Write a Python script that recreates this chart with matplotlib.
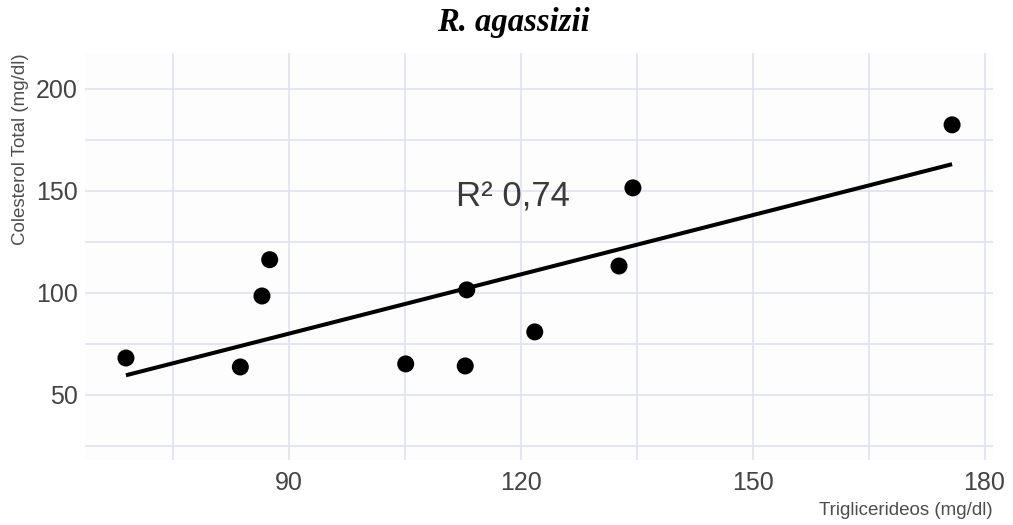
import numpy as np
import matplotlib
matplotlib.use("Agg")
import matplotlib.pyplot as plt
from matplotlib.ticker import FixedLocator

# Data
trig = [68.9, 83.7, 86.5, 87.5, 105.1, 112.8, 113.0, 121.8, 132.7, 134.5, 175.8]
col = [68.1, 63.7, 98.5, 116.3, 65.2, 64.2, 101.5, 80.9, 113.2, 151.5, 182.4]
x_major = [90, 120, 150, 180]
x_minor = [75, 105, 135, 165]
y_major = [50, 100, 150, 200]
y_minor = [25, 75, 125, 175]
title = "R. agassizii"
r2_label = "R² 0,74"

plt.rcParams['font.family'] = ['Liberation Sans', 'DejaVu Sans']

fig = plt.figure(figsize=(10.13, 5.25), dpi=100, facecolor='white')
ax = fig.add_axes([0.0839, 0.1238, 0.8964, 0.7752])
ax.set_facecolor('#fdfdfd')

x = np.array(trig)
y = np.array(col)
b, a = np.polyfit(x, y, 1)
xl = np.array([x.min(), x.max()])
ax.plot(xl, a + b * xl, color='black', lw=2.9, solid_capstyle='butt', zorder=3)
ax.scatter(x, y, s=150, color='black', zorder=4, edgecolors='none')

ax.text(119, 147, r2_label, ha='center', va='center', fontsize=25, color='#3a3a3a')

ax.set_xlim(63.6, 181.1)
ax.set_ylim(18.1, 217.6)
ax.xaxis.set_major_locator(FixedLocator(x_major))
ax.xaxis.set_minor_locator(FixedLocator(x_minor))
ax.yaxis.set_major_locator(FixedLocator(y_major))
ax.yaxis.set_minor_locator(FixedLocator(y_minor))
ax.grid(True, which='both', color='#dfe3ee', lw=1.2)
ax.set_axisbelow(True)
for s in ax.spines.values():
    s.set_visible(False)
ax.tick_params(which='both', length=0)
ax.tick_params(axis='x', labelsize=18, labelcolor='#444444', pad=8)
ax.tick_params(axis='y', labelsize=18, labelcolor='#444444', pad=5)

ax.set_xlabel("Triglicerideos (mg/dl)", loc='right', fontsize=13.5, color='#4d4d4d', labelpad=5)
ax.set_ylabel("Colesterol Total (mg/dl)", loc='top', fontsize=13.5, color='#4d4d4d', labelpad=5)

fig.text(0.507, 0.958, title, ha='center', va='center', fontsize=23.5,
         family=['Liberation Serif', 'DejaVu Serif'], style='italic', weight='bold', color='black')

fig.savefig('out.png', dpi=100, facecolor=fig.get_facecolor())
